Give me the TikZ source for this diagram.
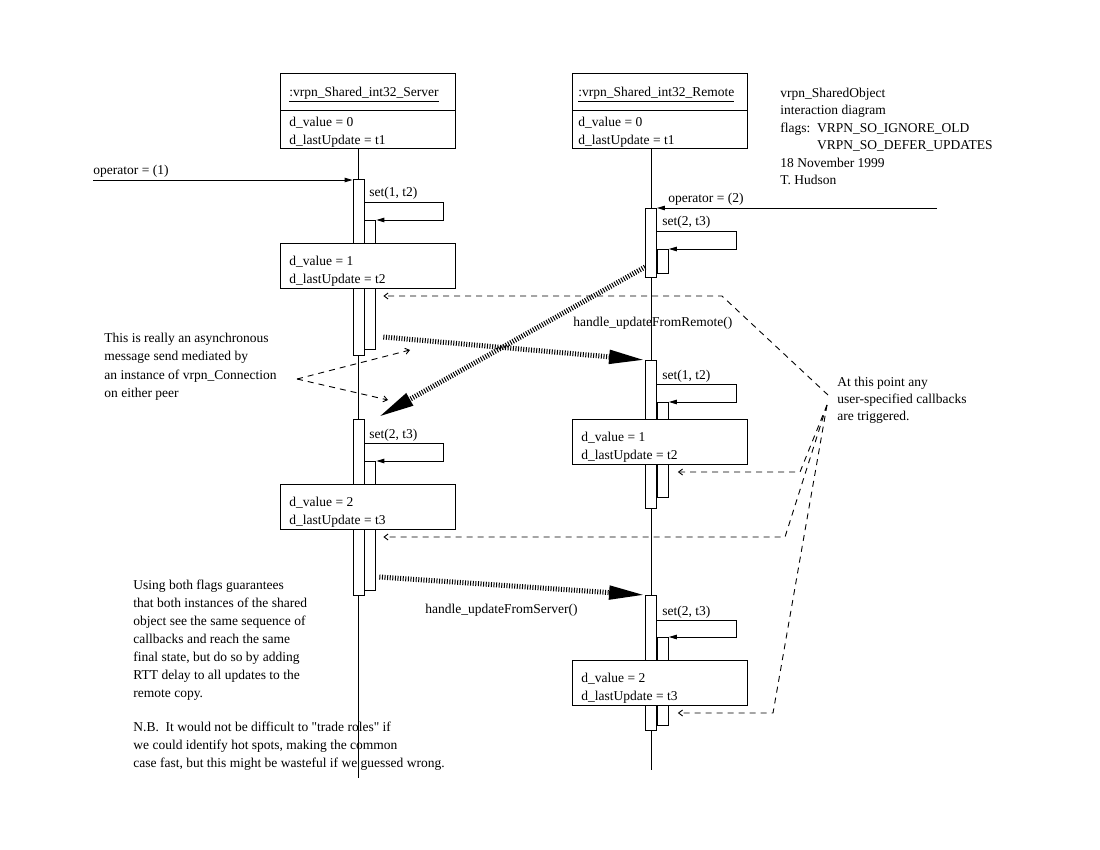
\documentclass[tikz,border=0pt]{standalone}
\usepackage{fontspec}
\setmainfont{Liberation Serif}
\newfontfamily\rawserif{Liberation Serif}
\usetikzlibrary{arrows.meta,positioning,calc}

\newcommand\statetext[2]{\begin{tabular}{@{}p{157pt}@{}}\rule{0pt}{22pt}#1\\#2\end{tabular}}

\tikzset{
  diagram/.style={x=1pt, y=-1pt, line width=0.9pt, font=\fontsize{13.5}{18}\selectfont},
  objbox/.style={draw, anchor=north west, minimum width=175pt, minimum height=75pt, inner sep=0pt},
  statebox/.style={draw, fill=white, anchor=north west, minimum width=175pt, minimum height=41pt, inner sep=0pt},
  bar/.style={draw, fill=white, minimum width=11pt, inner sep=0pt},
  lbl/.style={anchor=base west, inner sep=0pt},
  call/.style={-{Triangle[length=8pt,width=4.5pt]}},
  async/.style={line width=5pt, dash pattern=on 1pt off 1.6pt, -{Triangle[length=36pt,width=13pt]}},
  hint/.style={dash pattern=on 6pt off 5pt, -{Straight Barb[length=4pt,width=6pt]}},
}

\begin{document}
\begin{tikzpicture}[diagram]
\useasboundingbox (0,0) rectangle (1100,850);

% the two shared objects
\node[objbox] (srv) at (280,73) {};
\node[objbox] (rem) at (572,73) {};
\draw (srv.west |- 0,110) -- (srv.east |- 0,110);
\draw (rem.west |- 0,110) -- (rem.east |- 0,110);
\node[lbl] (srvname) at (289,97) {\underline{:vrpn\_Shared\_int32\_Server}};
\node[lbl] (srvval) at (289,127) {d\_value = 0};
\node[lbl] (srvtime) at (289,145) {d\_lastUpdate = t1};
\node[lbl] (remname) at (578,97) {\underline{:vrpn\_Shared\_int32\_Remote}};
\node[lbl] (remval) at (578,127) {d\_value = 0};
\node[lbl] (remtime) at (578,145) {d\_lastUpdate = t1};

% lifelines
\coordinate (slife) at (358.5,148);
\coordinate (rlife) at (651,148);
\draw (slife) -- (slife |- 0,778);
\draw (rlife) -- (rlife |- 0,770);

% activations
\node[bar, anchor=north, minimum height=176pt] (sact1) at (slife |- 0,179) {};
\node[bar, anchor=north west, minimum height=129pt] (snest1) at (sact1.east |- 0,220) {};
\node[bar, anchor=north, minimum height=176pt] (sact2) at (slife |- 0,419) {};
\node[bar, anchor=north west, minimum height=129pt] (snest2) at (sact2.east |- 0,461) {};
\node[bar, anchor=north, minimum height=69pt] (ract1) at (rlife |- 0,208) {};
\node[bar, anchor=north west, minimum height=24pt] (rnest1) at (ract1.east |- 0,249) {};
\node[bar, anchor=north, minimum height=148pt] (ract2) at (rlife |- 0,360) {};
\node[bar, anchor=north west, minimum height=95pt] (rnest2) at (ract2.east |- 0,402) {};
\node[bar, anchor=north, minimum height=135pt] (ract3) at (rlife |- 0,595) {};
\node[bar, anchor=north west, minimum height=88pt] (rnest3) at (ract3.east |- 0,637) {};

% states
\node[statebox] (sstate1) at (280,243) {\statetext{d\_value = 1}{d\_lastUpdate = t2}};
\node[statebox] (sstate2) at (280,484) {\statetext{d\_value = 2}{d\_lastUpdate = t3}};
\node[statebox] (rstate1) at (572,419) {\statetext{d\_value = 1}{d\_lastUpdate = t2}};
\node[statebox] (rstate2) at (572,660) {\statetext{d\_value = 2}{d\_lastUpdate = t3}};

% operator calls
\coordinate (op1) at (93,180);
\draw[call] (op1) -- (op1 -| sact1.west);
\node[lbl] (op1lbl) at (93,175) {operator = (1)};
\coordinate (op2) at (937,208);
\draw[call] (op2) -- (op2 -| ract1.east);
\node[lbl] (op2lbl) at (668,203) {operator = (2)};

% set() self calls
\draw[call] (sact1.east |- 0,202) -- ++(79,0) |- (snest1.north east);
\node[lbl] (sset1) at (369,197) {set(1, t2)};
\draw[call] (sact2.east |- 0,443) -- ++(79,0) |- (snest2.north east);
\node[lbl] (sset2) at (369,438) {set(2, t3)};
\draw[call] (ract1.east |- 0,231) -- ++(79,0) |- (rnest1.north east);
\node[lbl] (rset1) at (662,226) {set(2, t3)};
\draw[call] (ract2.east |- 0,384) -- ++(79,0) |- (rnest2.north east);
\node[lbl] (rset2) at (662,379) {set(1, t2)};
\draw[call] (ract3.east |- 0,620) -- ++(79,0) |- (rnest3.north east);
\node[lbl] (rset3) at (662,615) {set(2, t3)};

% update messages
\coordinate (upd1) at ($(snest1.east |- 0,337)+(7,0)$);
\coordinate (upd2) at (ract1.west |- 0,267);
\coordinate (upd3) at ($(snest2.east |- 0,577)+(3,0)$);
\draw[async] (upd1) -- (ract2.north west);
\draw[async] (upd2) -- ($(sact2.north east)+(14,-2)$);
\draw[async] (upd3) -- (ract3.north west);
\node[lbl] (fromremote) at (573,326) {handle\_updateFromRemote()};
\node[lbl] (fromserver) at (425,613) {handle\_updateFromServer()};

% comments
\foreach \line [count=\i from 0] in {vrpn\_SharedObject, interaction diagram,
    flags:~~VRPN\_SO\_IGNORE\_OLD, \hphantom{flags:~~}VRPN\_SO\_DEFER\_UPDATES,
    18 November 1999, T. Hudson}
  \node[lbl] (title\i) at (780,97.5+17.5*\i) {\line};

\foreach \line [count=\i from 0] in {This is really an asynchronous, message send mediated by,
    an instance of vrpn\_Connection, on either peer}
  \node[lbl] (async\i) at (104,342+18.5*\i) {\line};

\foreach \line [count=\i from 0] in {At this point any, user-specified callbacks, are triggered.}
  \node[lbl] (callback\i) at (837,386+17*\i) {\line};

\foreach \line [count=\i from 0] in {Using both flags guarantees, that both instances of the shared,
    object see the same sequence of, callbacks and reach the same,
    {final state, but do so by adding}, RTT delay to all updates to the, remote copy.}
  \node[lbl] (usage\i) at (133,589+18*\i) {\line};

\foreach \line [count=\i from 0] in {N.B.~~It would not be difficult to {\rawserif"}trade roles{\rawserif"} if,
    {we could identify hot spots, making the common},
    {case fast, but this might be wasteful if we guessed wrong.}}
  \node[lbl] (nb\i) at (133,731+18*\i) {\line};

% pointers from the comments
\coordinate (asyncnote) at (297,379);
\draw[hint] (asyncnote) -- (410,350);
\draw[hint] (asyncnote) -- (388,400);

\coordinate (cbnote) at (827,405);
\draw[hint] (828,395) -- (722,296) -- ($(snest1.east |- 0,296)+(7,0)$);
\draw[hint] (cbnote) -- (800,472) -- ($(rnest2.east |- 0,472)+(9,0)$);
\draw[hint] (cbnote) -- (785,537) -- ($(snest2.east |- 0,537)+(7,0)$);
\draw[hint] (cbnote) -- (773,713) -- ($(rnest3.east |- 0,713)+(9,0)$);

\end{tikzpicture}
\end{document}
